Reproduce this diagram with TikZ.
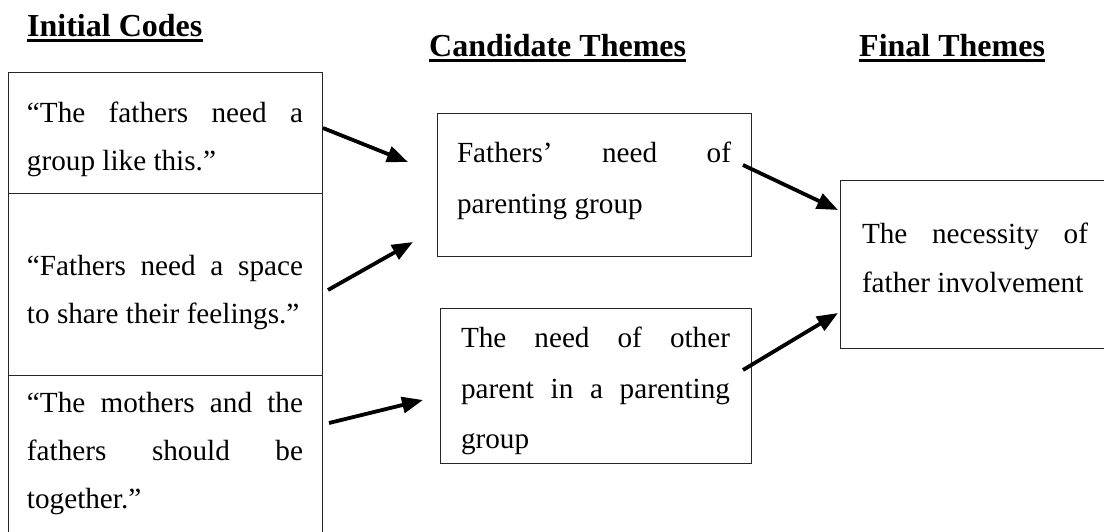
\documentclass[tikz,border=0pt]{standalone}
\usepackage{fontspec}
\setmainfont{Liberation Serif}
\usetikzlibrary{arrows.meta,calc}
\newcommand{\cellpar}[5]{\parbox[c][#2][t]{#1}{\fontsize{29.2pt}{#4}\selectfont\tolerance=10000\hyphenpenalty=10000\vspace*{#3}#5}}
\tikzset{
  cbox/.style={draw=black!85, line width=1pt, inner ysep=0pt, outer sep=0pt, anchor=north west},
  hdr/.style={inner sep=0pt, anchor=base west, font=\fontsize{32pt}{38pt}\selectfont\bfseries},
  ul/.style={line width=3pt},
  arr/.style={line width=3.8pt, -{Triangle[length=21pt,width=16pt]}}
}
\begin{document}
\begin{tikzpicture}[x=1pt,y=-1pt]
\useasboundingbox (0,0) rectangle (1104,531);
\clip (0,0) rectangle (1104,531);
\fill[white] (0,0) rectangle (1104,531);

% headers
\node[hdr] (h1) at (27,36) {Initial Codes};
\node[hdr] (h2) at (429,56) {Candidate Themes};
\node[hdr] (h3) at (859,56) {Final Themes};
\foreach \h in {h1,h2,h3}{
  \draw[ul] ($(\h.base west)+(0,4.5)$) -- ($(\h.base east)+(0,4.5)$);
}

% initial codes
\node[cbox, inner xsep=19pt] (c1) at (8,72)
  {\cellpar{276pt}{121pt}{30pt}{48pt}{“The fathers need a\linebreak group like this.”}};
\node[cbox, inner xsep=19pt] (c2) at (8,193)
  {\cellpar{276pt}{182pt}{62pt}{48pt}{“Fathers need a space\linebreak to share their feelings.”}};
\node[cbox, inner xsep=19pt] (c3) at (8,375)
  {\cellpar{276pt}{200pt}{17pt}{48pt}{“The mothers and the\linebreak fathers should be\linebreak together.”}};

% candidate themes
\node[cbox, inner xsep=20pt] (m1) at (437,113)
  {\cellpar{274pt}{143pt}{29pt}{51pt}{Fathers’ need of\linebreak parenting group}};
\node[cbox, inner xsep=21pt] (m2) at (440,308)
  {\cellpar{269pt}{155pt}{19pt}{50.5pt}{The need of other\linebreak parent in a parenting\linebreak group}};

% final theme
\node[cbox, inner xsep=22pt] (f) at (840,180)
  {\cellpar{226pt}{168pt}{43pt}{49pt}{The necessity of\linebreak father involvement}};

% arrows
\draw[arr] ($(c1.north east)+(1,56)$) -- ($(m1.north west)+(-29,49)$);
\draw[arr] ($(c2.north east)+(6,97)$) -- ($(m1.north west)+(-24,129)$);
\draw[arr] ($(c3.north east)+(7,48)$) -- ($(m2.north west)+(-17,92)$);
\draw[arr] ($(m1.north east)+(-8,52)$) -- ($(f.north west)+(-2,30)$);
\draw[arr] ($(m2.north east)+(-8,62)$) -- ($(f.north west)+(-2,133)$);
\end{tikzpicture}
\end{document}
